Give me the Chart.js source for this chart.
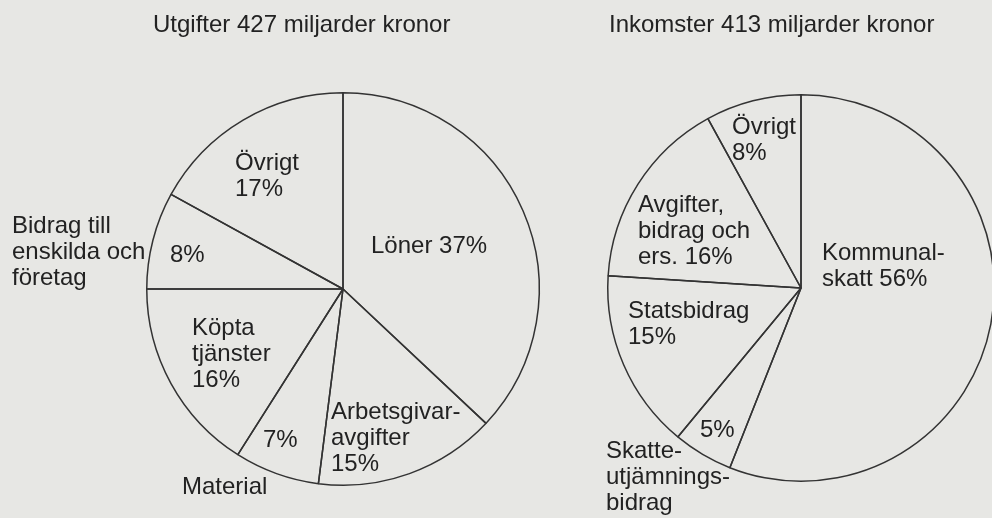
<!DOCTYPE html>
<html lang="sv">
<head>
<meta charset="utf-8">
<script src="https://cdn.jsdelivr.net/npm/chart.js@4.4.1/dist/chart.umd.min.js"></script>
<style>
  html, body { margin: 0; padding: 0; width: 992px; height: 518px; overflow: hidden; background: #e7e7e4; }
  .box { position: absolute; top: 0; height: 518px; }
  #leftBox { left: 0; width: 560px; }
  #rightBox { left: 560px; width: 440px; }
</style>
</head>
<body>
<div class="box" id="leftBox"><canvas id="utgifterChart"></canvas></div>
<div class="box" id="rightBox"><canvas id="inkomsterChart"></canvas></div>
<script>
// Utgifter (vänster cirkel)
const utgifterTitle = 'Utgifter 427 miljarder kronor';
const utgifterCategories = ['Löner', 'Arbetsgivaravgifter', 'Material', 'Köpta tjänster', 'Bidrag till enskilda och företag', 'Övrigt'];
const utgifterValues = [37, 15, 7, 16, 8, 17];
const utgifterTexts = [
    ['Löner 37%'],
    ['Arbetsgivar-', 'avgifter', '15%'],
    ['7%'],
    ['Köpta', 'tjänster', '16%'],
    ['8%'],
    ['Övrigt', '17%'],
    ['Material'],
    ['Bidrag till', 'enskilda och', 'företag']
];

// Inkomster (höger cirkel)
const inkomsterTitle = 'Inkomster 413 miljarder kronor';
const inkomsterCategories = ['Kommunalskatt', 'Skatteutjämningsbidrag', 'Statsbidrag', 'Avgifter, bidrag och ers.', 'Övrigt'];
const inkomsterValues = [56, 5, 15, 16, 8];
const inkomsterTexts = [
    ['Kommunal-', 'skatt 56%'],
    ['5%'],
    ['Statsbidrag', '15%'],
    ['Avgifter,', 'bidrag och', 'ers. 16%'],
    ['Övrigt', '8%'],
    ['Skatte-', 'utjämnings-', 'bidrag']
];

// textplacering relativt cirkelns mitt (vänsterkant, baslinje)
const utgifterTextPos = [[28, -36], [-12, 130], [-80, 158], [-151, 46], [-173, -27], [-108, -119], [-161, 205], [-331, -56]];
const inkomsterTextPos = [[21, -28], [-101, 149], [-173, 30], [-163, -76], [-69, -154], [-195, 170]];

const lineColor = '#333333';
const textColor = '#222222';
const fontFamily = '"Liberation Sans", Arial, Helvetica, sans-serif';
const lineHeight = 26;

// etiketter och rubrik ritas ovanpå cirkeln
const labelPlugin = {
    id: 'labelPlugin',
    afterDraw(chart, args, opts) {
        const ctx = chart.ctx;
        const arc = chart.getDatasetMeta(0).data[0];
        ctx.save();
        ctx.fillStyle = textColor;
        ctx.textAlign = 'left';
        ctx.textBaseline = 'alphabetic';
        ctx.font = '24px ' + fontFamily;
        ctx.fillText(opts.title, opts.titleX, 32);
        opts.texts.forEach((lines, i) => {
            const [dx, dy] = opts.pos[i];
            lines.forEach((line, j) => {
                ctx.fillText(line, arc.x + dx, arc.y + dy + j * lineHeight);
            });
        });
        ctx.restore();
    }
};

function renderPie(id, categories, values, padding, labelOpts) {
    new Chart(document.getElementById(id).getContext('2d'), {
        type: 'pie',
        data: {
            labels: categories,
            datasets: [{
                data: values,
                backgroundColor: 'rgba(0, 0, 0, 0)',
                borderColor: lineColor,
                borderWidth: 1.5,
            }]
        },
        options: {
            responsive: true,
            maintainAspectRatio: false,
            animation: false,
            events: [],
            layout: { padding: padding },
            plugins: {
                legend: { display: false },
                tooltip: { enabled: false },
                labelPlugin: labelOpts
            }
        },
        plugins: [labelPlugin]
    });
}

renderPie('utgifterChart', utgifterCategories, utgifterValues,
    { left: 146, right: 20, top: 92, bottom: 32 },
    { title: utgifterTitle, titleX: 153, texts: utgifterTexts, pos: utgifterTextPos });

renderPie('inkomsterChart', inkomsterCategories, inkomsterValues,
    { left: 47, right: 5, top: 94, bottom: 36 },
    { title: inkomsterTitle, titleX: 49, texts: inkomsterTexts, pos: inkomsterTextPos });
</script>
</body>
</html>
